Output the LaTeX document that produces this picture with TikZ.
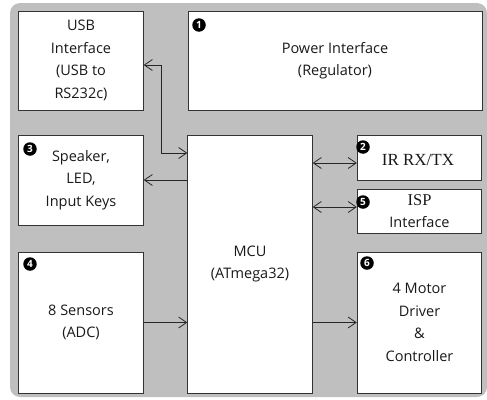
\documentclass[tikz,border=0pt]{standalone}
\usepackage{fontspec}
\setmainfont{Open Sans}
\newfontfamily\serfont{Liberation Serif}
\usetikzlibrary{arrows.meta}
\begin{document}
\begin{tikzpicture}[x=1pt,y=-1pt,
  blk/.style={draw=black!80, fill=white, line width=0.9pt, align=center, inner sep=0pt,
    font=\fontsize{14.5}{22.5}\selectfont, text=black!90},
  num/.style={circle, fill=black, text=white, inner sep=0pt, minimum size=13.5pt,
    font=\fontsize{10}{10}\selectfont\bfseries},
  conn/.style={line width=0.8pt, draw=black!85},
  tipend/.style={-{Straight Barb[length=8pt,width=11pt]}},
  tipboth/.style={{Straight Barb[length=8pt,width=11pt]}-{Straight Barb[length=8pt,width=11pt]}}]
\useasboundingbox (0,0) rectangle (487,399);
\fill[black!25, rounded corners=10pt] (10,3) rectangle (487,397);

\node[blk, minimum width=124.5pt, minimum height=99pt] (usb) at (81,60.5)
  {USB\\Interface\\(USB to\\RS232c)};
\node[blk, minimum width=294pt, minimum height=99pt] (pwr) at (335,60.5)
  {Power Interface\\(Regulator)};
\node[blk, minimum width=124.5pt, minimum height=90pt] (spk) at (81,180)
  {Speaker,\\LED,\\Input Keys};
\node[blk, minimum width=124.5pt, minimum height=258pt] (mcu) at (250,264)
  {MCU\\(ATmega32)};
\node[blk, minimum width=124.5pt, minimum height=45pt] (ir) at (419.5,157.5) {};
\node[font=\serfont\fontsize{17}{20}\selectfont, text=black!90] (irt) at (418,160) {IR RX/TX};
\node[blk, minimum width=124.5pt, minimum height=44pt] (isp) at (419.5,211)
  {{\serfont\fontsize{16.5}{20}\selectfont ISP}\\Interface};
\node[blk, minimum width=124.5pt, minimum height=141pt] (sen) at (81,322.5)
  {8 Sensors\\(ADC)};
\node[blk, minimum width=124.5pt, minimum height=141pt] (mot) at (419.5,322.5)
  {4 Motor\\Driver\\\&\\Controller};

\node[num] (n1) at (199,25) {1};
\node[num] (n2) at (363,147) {2};
\node[num] (n3) at (30,149) {3};
\node[num] (n4) at (30,264) {4};
\node[num] (n5) at (363,202) {5};
\node[num] (n6) at (367,263) {6};

\coordinate (yusb) at (0,65);
\coordinate (ymcu1) at (0,153);
\coordinate (yir) at (0,163);
\coordinate (yisp) at (0,207);
\coordinate (xbend) at (161,0);

\draw[conn, tipboth] (usb.east |- yusb) -- (xbend |- yusb) -- (xbend |- ymcu1) -- (mcu.west |- ymcu1);
\draw[conn, tipend] (mcu.west |- spk.east) -- (spk.east);
\draw[conn, tipend] (sen.east) -- (mcu.west |- sen.east);
\draw[conn, tipboth] (mcu.east |- yir) -- (ir.west |- yir);
\draw[conn, tipboth] (mcu.east |- yisp) -- (isp.west |- yisp);
\draw[conn, tipend] (mcu.east |- mot.west) -- (mot.west);
\end{tikzpicture}
\end{document}
